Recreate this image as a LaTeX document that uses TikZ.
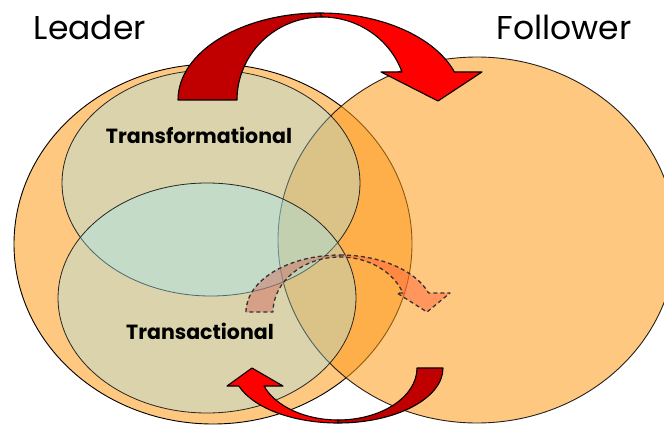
\documentclass[tikz,border=0pt]{standalone}
\usepackage{fontspec}
\setmainfont{Poppins}
\begin{document}
\begin{tikzpicture}[x=1pt,y=1pt,
  outline/.style={draw=black,line width=0.9pt},
  setleader/.style={outline,fill=leaderfill},
  setfollower/.style={outline,draw opacity=0.85,fill=followerfill,fill opacity=0.56},
  style/.style={draw=black!85,line width=0.8pt,fill=stylefill,fill opacity=0.34},
  backpart/.style={outline,line width=1.1pt,fill=arrowdark,line join=round},
  frontpart/.style={outline,line width=1.1pt,fill=arrowbright,line join=round},
  ghostback/.style={draw=black!80,line width=1.3pt,dash pattern=on 4pt off 3pt,fill=ghostdark,fill opacity=0.45,line join=round},
  ghostfront/.style={draw=black!80,line width=1.3pt,dash pattern=on 4pt off 3pt,fill=ghostbright,fill opacity=0.5,line join=round},
  title/.style={font=\fontsize{33}{36}\selectfont,anchor=base},
  setlabel/.style={font=\fontsize{20.5}{22}\selectfont\bfseries,anchor=base}
]
\definecolor{leaderfill}{RGB}{255,200,128}
\definecolor{followerfill}{RGB}{255,157,30}
\definecolor{stylefill}{RGB}{150,235,255}
\definecolor{arrowdark}{RGB}{192,0,0}
\definecolor{arrowbright}{RGB}{255,0,0}
\definecolor{ghostdark}{RGB}{210,100,90}
\definecolor{ghostbright}{RGB}{255,100,60}

\useasboundingbox (0,0) rectangle (664,424);
\begin{scope}
\clip (0,0) rectangle (664,424);

% the two parties
\draw[setleader] (213,180) ellipse [x radius=199pt, y radius=180pt];
\draw[setfollower] (477,184) ellipse [x radius=199pt, y radius=183pt];

% the two leadership styles
\draw[style] (211,241) ellipse [x radius=149pt, y radius=113pt];
\draw[style] (207,126) ellipse [x radius=149pt, y radius=115pt];

% faint curved arrow across the overlap
\draw[ghostback] (246,112) arc[start angle=180, end angle=90, x radius=94pt, y radius=57pt]
  -- (340,167) arc[start angle=90, end angle=180, x radius=67pt, y radius=55pt] -- cycle;
\draw[ghostfront] (340,169) arc[start angle=90, end angle=19.5, x radius=94pt, y radius=57pt]
  -- (450,131) -- (427,112) -- (397,131) -- (402.9,131)
  arc[start angle=20.2, end angle=90, x radius=67pt, y radius=55pt] -- cycle;

% curved arrow over the top, leader to follower
\draw[backpart] (178,324) arc[start angle=180, end angle=90, x radius=142pt, y radius=87pt]
  -- (322,407) arc[start angle=90, end angle=180, x radius=85pt, y radius=83pt] -- cycle;
\draw[frontpart] (320,411) arc[start angle=90, end angle=18.8, x radius=142pt, y radius=87pt]
  -- (482,352) -- (438,323) -- (381,352) -- (402,352)
  arc[start angle=19.7, end angle=90, x radius=85pt, y radius=83pt] -- cycle;

% curved arrow along the bottom, follower back to leader
\draw[backpart] (443,56) arc[start angle=0, end angle=-90, x radius=105pt, y radius=55pt]
  -- (338,4) arc[start angle=-90, end angle=0, x radius=79pt, y radius=52pt] -- cycle;
\draw[frontpart] (338,1) arc[start angle=270, end angle=199.1, x radius=105pt, y radius=55pt]
  -- (227,38) -- (252,56) -- (283,38) -- (264,38)
  arc[start angle=200.25, end angle=270, x radius=79pt, y radius=52pt] -- cycle;
\end{scope}

% labels
\node[title] (leaderlbl) at (90,384) {Leader};
\node[title] (followerlbl) at (564,384) {Follower};
\node[setlabel] (transf) at (199,281) {Transformational};
\node[setlabel] (transa) at (200,85) {Transactional};
\end{tikzpicture}
\end{document}
